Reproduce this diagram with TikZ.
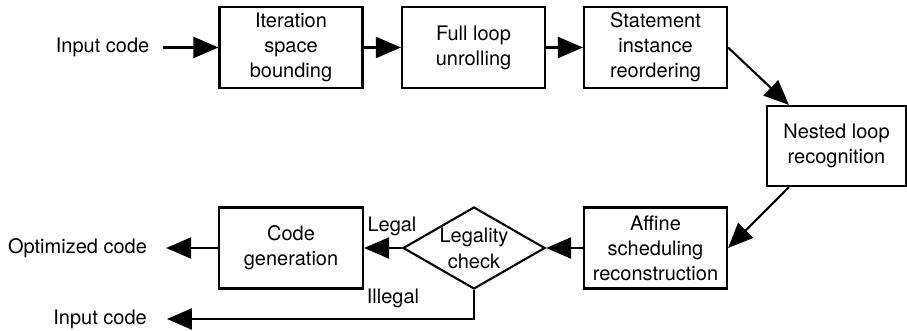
\documentclass[tikz,border=0pt]{standalone}
\usepackage{fontspec}
\setmainfont{TeX Gyre Heros}
\usetikzlibrary{arrows.meta,shapes.geometric}

\begin{document}
\begin{tikzpicture}[x=1pt,y=-1pt,
  txt/.style={font=\fontsize{20}{25}\selectfont},
  stage/.style={txt, draw, line width=2.1pt, inner sep=0pt,
    minimum width=143pt, minimum height=81pt, align=center},
  lbl/.style={txt, inner sep=0pt},
  flow/.style={line width=2.1pt, -{Triangle[length=25pt,width=21pt]}}]
\useasboundingbox (0,0) rectangle (907,331);

% pipeline stages
\node[stage] (bound)  at (291,47.5)   {Iteration\\space\\bounding};
\node[stage] (unroll) at (473.5,47.5) {Full loop\\unrolling};
\node[stage] (reord)  at (655.5,47.5) {Statement\\instance\\reordering};
\node[stage, minimum width=139pt, minimum height=80pt] (nest) at (836.5,146) {Nested loop\\recognition};
\node[stage] (affine) at (655.5,248)  {Affine\\scheduling\\reconstruction};
\node[stage, minimum width=144pt] (gen) at (291,248) {Code\\generation};

% legality test
\node[draw, diamond, line width=2.1pt, minimum width=142pt, minimum height=82pt,
      inner sep=0pt] (chk) at (474,248) {};
\node[lbl, align=center, font=\fontsize{20}{26}\selectfont] (chktxt) at (chk.center) {Legality\\check};

% inputs and outputs
\node[lbl] (in)   at (102.5,47.5) {Input code};
\node[lbl] (opt)  at (77.5,248)   {Optimized code};
\node[lbl] (back) at (100,319)    {Input code};

% branch labels
\node[lbl] (legal)   at (392,226) {Legal};
\node[lbl] (illegal) at (393,298) {Illegal};

% connectors
\draw[flow, shorten <=14pt] (in.east) -- (bound.west);
\draw[flow] (bound.east) -- (unroll.west);
\draw[flow] (unroll.east) -- (reord.west);
\draw[flow] (reord.east) -- ([xshift=23pt]nest.north west);
\draw[flow] ([xshift=23pt]nest.south west) -- (affine.east);
\draw[flow] (affine.west) -- (chk.east);
\draw[flow] (chk.west) -- (gen.east);
\draw[flow, shorten >=19pt] (gen.west) -- (opt.east);
\draw[flow, shorten >=20pt] (chk.south) |- (back.east);
\end{tikzpicture}
\end{document}
